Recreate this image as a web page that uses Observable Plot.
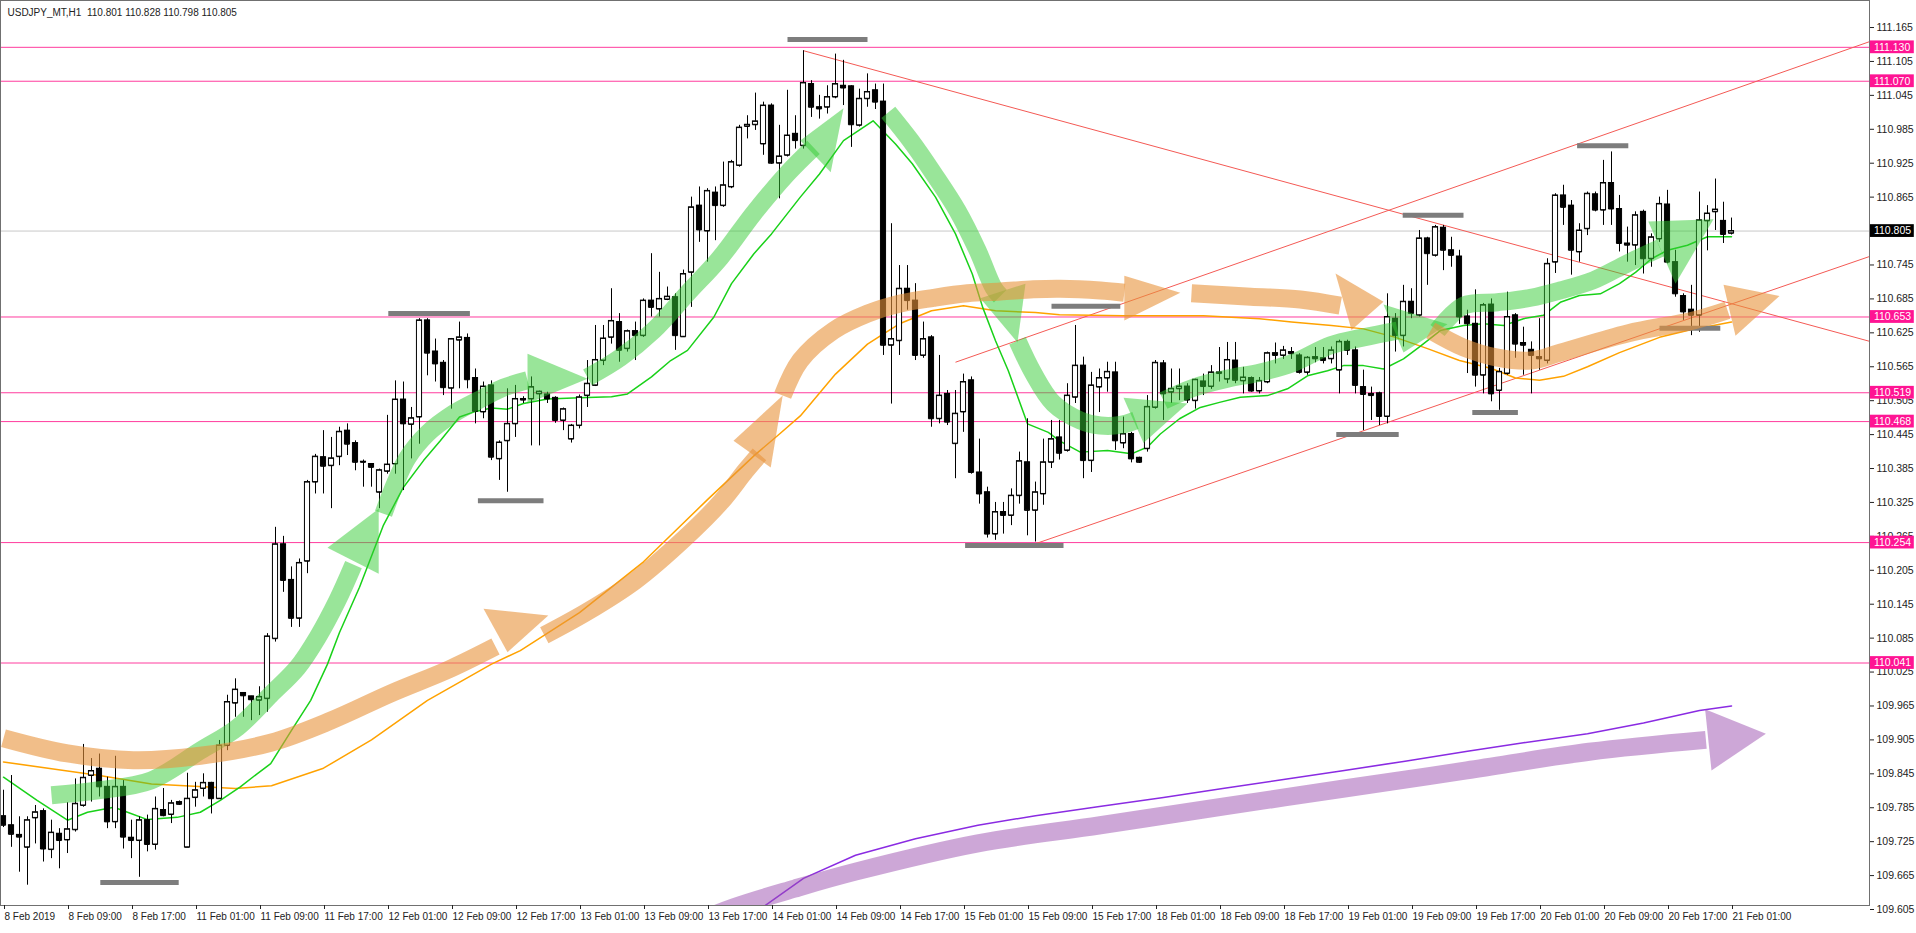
<!DOCTYPE html>
<html><head><meta charset="utf-8">
<script src="https://cdn.jsdelivr.net/npm/d3@7"></script>
<script src="https://cdn.jsdelivr.net/npm/@observablehq/plot@0.6"></script>
<style>html,body{margin:0;padding:0;background:#fff;overflow:hidden}svg{display:block}</style>
</head><body><div id="chart"></div>
<script>
const title = "USDJPY_MT,H1  110.801 110.828 110.798 110.805";
const xTickLabels = ["8 Feb 2019","8 Feb 09:00","8 Feb 17:00","11 Feb 01:00","11 Feb 09:00","11 Feb 17:00","12 Feb 01:00","12 Feb 09:00","12 Feb 17:00","13 Feb 01:00","13 Feb 09:00","13 Feb 17:00","14 Feb 01:00","14 Feb 09:00","14 Feb 17:00","15 Feb 01:00","15 Feb 09:00","15 Feb 17:00","18 Feb 01:00","18 Feb 09:00","18 Feb 17:00","19 Feb 01:00","19 Feb 09:00","19 Feb 17:00","20 Feb 01:00","20 Feb 09:00","20 Feb 17:00","21 Feb 01:00"];
const priceTicks = [111.165,111.105,111.045,110.985,110.925,110.865,110.805,110.745,110.685,110.625,110.565,110.505,110.445,110.385,110.325,110.265,110.205,110.145,110.085,110.025,109.965,109.905,109.845,109.785,109.725,109.665,109.605];
const levels = [111.130,111.070,110.653,110.519,110.468,110.254,110.041];
const lastPrice = 110.805;

const opens = [109.770,109.754,109.737,109.715,109.767,109.779,109.711,109.739,109.728,109.746,
109.789,109.842,109.854,109.822,109.760,109.822,109.732,109.727,109.763,109.720,
109.781,109.773,109.795,109.715,109.803,109.819,109.829,109.801,109.895,109.970,
109.988,109.982,109.975,109.978,110.084,110.251,110.188,110.120,110.221,110.361,
110.405,110.390,110.406,110.452,110.430,110.396,110.393,110.343,110.380,110.393,
110.507,110.463,110.476,110.647,110.592,110.572,110.527,110.612,110.616,110.545,
110.485,110.532,110.402,110.434,110.464,110.508,110.508,110.517,110.516,110.510,
110.470,110.437,110.461,110.514,110.532,110.576,110.617,110.644,110.597,110.628,
110.620,110.682,110.667,110.684,110.688,110.618,110.732,110.850,110.805,110.873,
110.850,110.883,110.921,110.990,110.993,110.959,111.027,110.925,110.939,110.977,
110.956,111.065,111.024,111.024,111.042,111.062,111.061,110.992,111.039,111.054,
111.034,110.603,110.611,110.703,110.682,110.585,110.617,110.473,110.517,110.429,
110.485,110.541,110.378,110.343,110.269,110.308,110.302,110.337,110.396,110.311,
110.340,110.396,110.440,110.417,110.511,110.567,110.399,110.529,110.545,110.555,
110.430,110.446,110.404,110.420,110.493,110.571,110.520,110.526,110.530,110.505,
110.539,110.530,110.553,110.543,110.576,110.540,110.545,110.522,110.538,110.589,
110.585,110.591,110.585,110.555,110.582,110.580,110.579,110.559,110.609,110.594,
110.529,110.517,110.518,110.477,110.650,110.620,110.680,110.656,110.792,110.762,
110.811,110.771,110.760,110.654,110.641,110.550,110.675,110.523,110.553,110.656,
110.607,110.595,110.582,110.576,110.750,110.868,110.850,110.768,110.809,110.870,
110.842,110.890,110.844,110.783,110.780,110.839,110.756,110.791,110.852,110.750,
110.690,110.666,110.656,110.823,110.839,110.823,110.801];
const highs = [109.816,109.842,109.769,109.769,109.789,109.783,109.763,109.748,109.794,109.836,
109.897,109.872,109.880,109.839,109.876,109.833,109.763,109.769,109.772,109.804,
109.819,109.798,109.797,109.846,109.830,109.845,109.830,109.904,109.984,110.013,
109.988,109.982,109.999,110.093,110.281,110.265,110.211,110.225,110.364,110.410,
110.452,110.440,110.458,110.464,110.434,110.400,110.393,110.384,110.479,110.540,
110.538,110.493,110.650,110.650,110.614,110.576,110.615,110.644,110.623,110.561,
110.538,110.540,110.434,110.526,110.532,110.512,110.547,110.522,110.520,110.512,
110.492,110.463,110.515,110.576,110.638,110.638,110.703,110.659,110.630,110.644,
110.685,110.765,110.732,110.706,110.694,110.736,110.865,110.883,110.880,110.883,
110.927,110.930,110.992,111.009,111.049,111.033,111.030,110.992,111.054,111.009,
111.124,111.071,111.045,111.062,111.118,111.107,111.062,111.056,111.083,111.065,
111.065,110.818,110.744,110.744,110.712,110.644,110.620,110.585,110.523,110.523,
110.552,110.547,110.437,110.352,110.325,110.325,110.349,110.414,110.473,110.361,
110.437,110.470,110.470,110.535,110.638,110.582,110.555,110.561,110.573,110.573,
110.476,110.449,110.405,110.514,110.576,110.576,110.561,110.561,110.535,110.543,
110.552,110.567,110.599,110.608,110.608,110.564,110.547,110.546,110.591,110.607,
110.601,110.599,110.588,110.583,110.599,110.599,110.600,110.612,110.612,110.600,
110.559,110.529,110.520,110.694,110.659,110.709,110.703,110.806,110.794,110.815,
110.815,110.794,110.771,110.665,110.701,110.677,110.685,110.562,110.697,110.659,
110.635,110.609,110.650,110.756,110.871,110.886,110.859,110.818,110.874,110.874,
110.930,110.945,110.868,110.812,110.839,110.842,110.800,110.865,110.877,110.771,
110.694,110.709,110.874,110.850,110.897,110.856,110.828];
const lows = [109.750,109.715,109.671,109.648,109.721,109.689,109.695,109.677,109.704,109.742,
109.786,109.795,109.804,109.748,109.748,109.712,109.695,109.662,109.707,109.710,
109.769,109.757,109.789,109.715,109.786,109.804,109.774,109.801,109.886,109.945,
109.945,109.939,109.948,109.954,110.078,110.166,110.104,110.104,110.199,110.340,
110.340,110.314,110.390,110.408,110.381,110.352,110.352,110.314,110.375,110.375,
110.346,110.402,110.428,110.549,110.538,110.514,110.490,110.526,110.526,110.464,
110.473,110.399,110.364,110.343,110.440,110.500,110.425,110.425,110.500,110.465,
110.452,110.430,110.455,110.493,110.530,110.567,110.605,110.573,110.591,110.576,
110.617,110.653,110.653,110.682,110.594,110.617,110.670,110.785,110.750,110.788,
110.847,110.880,110.918,110.968,110.983,110.939,110.923,110.862,110.936,110.950,
110.950,111.006,111.003,111.012,111.039,111.027,110.953,110.989,111.024,111.020,
110.585,110.499,110.585,110.665,110.576,110.580,110.458,110.464,110.461,110.367,
110.449,110.375,110.322,110.262,110.258,110.269,110.284,110.322,110.266,110.255,
110.320,110.385,110.400,110.414,110.500,110.367,110.378,110.484,110.520,110.417,
110.420,110.395,110.394,110.414,110.490,110.470,110.500,110.505,110.500,110.490,
110.514,110.525,110.538,110.535,110.535,110.517,110.520,110.517,110.535,110.570,
110.578,110.578,110.552,110.550,110.572,110.570,110.570,110.517,110.585,110.517,
110.452,110.470,110.461,110.464,110.591,110.600,110.650,110.653,110.709,110.759,
110.735,110.741,110.640,110.553,110.529,110.517,110.503,110.488,110.550,110.580,
110.550,110.517,110.559,110.570,110.730,110.815,110.727,110.750,110.797,110.839,
110.815,110.815,110.768,110.750,110.744,110.729,110.741,110.785,110.747,110.688,
110.647,110.620,110.626,110.770,110.806,110.783,110.798];
const closes = [109.754,109.738,109.733,109.763,109.777,109.712,109.741,109.727,109.747,109.792,
109.838,109.850,109.822,109.760,109.822,109.733,109.727,109.763,109.720,109.783,
109.771,109.793,109.791,109.801,109.816,109.829,109.801,109.895,109.972,109.994,
109.983,109.976,109.981,110.088,110.251,110.187,110.120,110.218,110.361,110.406,
110.389,110.403,110.450,110.428,110.396,110.397,110.387,110.382,110.392,110.507,
110.464,110.474,110.647,110.589,110.570,110.528,110.614,110.617,110.542,110.486,
110.530,110.405,110.431,110.464,110.508,110.506,110.529,110.521,110.508,110.470,
110.490,110.461,110.511,110.535,110.577,110.615,110.646,110.594,110.628,110.620,
110.682,110.670,110.685,110.689,110.620,110.729,110.847,110.807,110.876,110.850,
110.886,110.927,110.988,110.993,110.999,111.027,110.925,110.937,110.974,110.965,
111.067,111.024,111.021,111.042,111.065,111.058,110.993,111.039,111.051,111.033,
110.603,110.614,110.703,110.682,110.585,110.614,110.473,110.514,110.467,110.482,
110.538,110.378,110.340,110.269,110.308,110.302,110.337,110.398,110.311,110.343,
110.396,110.437,110.412,110.514,110.567,110.399,110.532,110.545,110.556,110.434,
110.446,110.402,110.396,110.494,110.572,110.517,110.526,110.530,110.506,110.542,
110.530,110.555,110.555,110.577,110.541,110.546,110.522,110.540,110.589,110.585,
110.594,110.588,110.555,110.581,110.579,110.576,110.594,110.609,110.594,110.532,
110.516,110.514,110.477,110.653,110.620,110.680,110.659,110.792,110.765,110.812,
110.771,110.762,110.653,110.641,110.550,110.674,110.517,110.556,110.653,110.605,
110.603,110.585,110.579,110.747,110.868,110.847,110.771,110.806,110.871,110.842,
110.890,110.844,110.783,110.780,110.833,110.756,110.794,110.853,110.750,110.694,
110.662,110.656,110.824,110.836,110.843,110.799,110.805];

// moving averages: [bar, price]
const maFast = [[0,109.839],[4.2,109.798],[8,109.763],[10.5,109.777],[13.8,109.786],[15.5,109.777],[18,109.764],[21.7,109.768],[24.6,109.777],[27.1,109.798],[29.6,109.822],[31.7,109.845],[33.4,109.863],[36,109.922],[38.4,109.975],[40.5,110.039],[42,110.095],[44.5,110.175],[47.5,110.285],[50,110.352],[52.5,110.399],[54.6,110.434],[57,110.476],[59,110.486],[61,110.492],[63,110.490],[65,110.500],[68,110.508],[72,110.510],[76,110.512],[78,110.517],[81,110.547],[83.4,110.576],[85.5,110.594],[88.8,110.653],[91,110.712],[93.8,110.765],[96,110.800],[99.6,110.865],[102,110.906],[105,110.965],[108.7,111.000],[111.5,110.959],[113.6,110.924],[116.5,110.865],[119,110.800],[121.1,110.729],[122.4,110.670],[124,110.611],[125.6,110.558],[128,110.464],[130.6,110.449],[132,110.434],[134.6,110.414],[138,110.417],[141,110.411],[143,110.423],[144.6,110.446],[147,110.473],[149.6,110.493],[152,110.502],[154.6,110.511],[158,110.514],[160.5,110.526],[163,110.549],[165.5,110.558],[167.5,110.567],[170,110.567],[172.5,110.561],[175,110.579],[177,110.600],[179.6,110.629],[182.5,110.638],[185,110.641],[187.5,110.638],[190,110.650],[192.5,110.656],[194.6,110.679],[197,110.691],[199.6,110.694],[202,110.712],[204,110.732],[206,110.756],[208,110.771],[210.5,110.780],[213,110.795],[216,110.795]];
const maSlow = [[0,109.866],[8,109.850],[12,109.842],[18.5,109.827],[25,109.822],[29,109.819],[33.5,109.824],[40,109.855],[46,109.905],[53,109.975],[61,110.039],[64.6,110.063],[72,110.13],[80,110.22],[88,110.33],[94,110.41],[97,110.446],[99.6,110.478],[104,110.552],[108,110.605],[110,110.623],[112,110.641],[116,110.664],[120,110.673],[124,110.664],[129,110.661],[132,110.657],[140,110.655],[150,110.655],[157,110.650],[161,110.644],[166,110.638],[170,110.632],[174,110.617],[178,110.597],[182,110.576],[186,110.562],[189,110.545],[192,110.541],[195,110.548],[198,110.565],[202,110.59],[207,110.617],[210.5,110.629],[216,110.644]];
const maLong = [[94,109.600],[100,109.660],[106.5,109.701],[114,109.730],[121.8,109.754],[129,109.771],[137,109.787],[145,109.803],[152.4,109.819],[160,109.835],[167.6,109.851],[175,109.867],[183,109.885],[190,109.900],[198,109.916],[205,109.935],[212,109.957],[216,109.965]];

// trend lines: [bar1, price1, bar2, price2]
const trendLines = [[100,111.124,233.25,110.61],[119,110.573,233.25,111.14],[129,110.252,233.25,110.76]];
// short grey swing markers: [barStart, barEnd, price]
const swingMarks = [[12.1,21.9,109.653],[48.1,58.3,110.659],[59.3,67.5,110.328],[98,108,111.144],[120.2,132.5,110.249],[131,139.6,110.672],[166.6,174.4,110.445],[174.9,182.5,110.833],[183.6,189.3,110.484],[196.7,203.1,110.956],[207,214.6,110.633]];

// hand-drawn arrows: bodies [bar, price] and heads (triangles)
const greenBands = [
 [[6,109.807],[12,109.816],[18.4,109.833],[24.6,109.886],[29.25,109.927],[33.4,109.985],[36.75,110.033],[39.25,110.086],[41.75,110.152],[43.75,110.215]],
 [[47.5,110.305],[49,110.36],[50.5,110.404],[53,110.447],[56.25,110.482],[59.25,110.505],[62.5,110.528],[65.5,110.541]],
 [[73,110.546],[77.1,110.581],[81.25,110.629],[85.5,110.695],[89.6,110.758],[93.75,110.836],[98,110.907],[101.25,110.953]],
 [[110.6,111.015],[113.4,110.965],[116.25,110.907],[119.25,110.841],[121.75,110.771],[123.75,110.705],[124.6,110.69]],
 [[126.75,110.611],[128.75,110.553],[131.25,110.500],[134.6,110.470],[137.1,110.461],[139.6,110.462],[141.5,110.470]],
 [[145,110.505],[148.75,110.528],[153,110.544],[157.1,110.555],[161.25,110.572],[165.9,110.603],[170,110.617],[174.25,110.629]],
 [[179.25,110.629],[182.5,110.673],[186.75,110.679],[190.9,110.687],[194.6,110.700],[198.75,110.718],[203,110.748],[207.1,110.775]]
];
const greenHeads = [
 [[40.5,110.245],[46.9,110.199],[46.9,110.314]],
 [[65.5,110.588],[65.5,110.500],[73,110.544]],
 [[99.6,110.965],[103.4,110.909],[105,111.022]],
 [[122.1,110.686],[127.75,110.712],[126.75,110.608]],
 [[140,110.51],[142.5,110.43],[148,110.50]],
 [[172.5,110.675],[175,110.59],[180.5,110.64]],
 [[205.6,110.822],[209,110.712],[213.75,110.826]]
];
const orangeBands = [
 [[0,109.908],[8,109.881],[16.25,109.869],[24.6,109.877],[33.4,109.900],[40.9,109.939],[48.4,109.987],[55.9,110.031],[61.5,110.07]],
 [[67.6,110.090],[73,110.132],[79,110.187],[85.1,110.261],[89.75,110.327],[92.75,110.381],[94.5,110.41]],
 [[97.4,110.514],[99.6,110.576],[103.75,110.629],[108,110.659],[112.1,110.677],[116.25,110.687],[120.5,110.695],[124.6,110.698],[128.75,110.702],[132.1,110.703],[137.1,110.700],[140.1,110.696]],
 [[148.5,110.695],[155.9,110.689],[162.1,110.684],[167.1,110.673]],
 [[178.4,110.629],[182.5,110.599],[186.75,110.581],[190.9,110.576],[194.6,110.590],[203,110.624],[211.25,110.647],[215.5,110.665]]
];
const orangeHeads = [
 [[60,110.137],[63,110.060],[68.1,110.125]],
 [[91.25,110.434],[95.9,110.387],[97.4,110.514]],
 [[140.1,110.726],[140.1,110.647],[147.1,110.696]],
 [[166.5,110.73],[168.5,110.63],[172.5,110.68]],
 [[215,110.71],[216.5,110.62],[222,110.69]]
];
const purpleBands = [
 [[84.4,109.570],[91.3,109.609],[98.9,109.642],[106.5,109.672],[121.8,109.722],[137.1,109.754],[152.4,109.787],[167.6,109.819],[182.9,109.851],[198.2,109.884],[212.8,109.905]]
];
const purpleHeads = [
 [[212.7,109.959],[213.5,109.851],[220.3,109.916]]
];

const xMin = -0.375, xMax = 233.25, yMin = 109.6121, yMax = 111.2128;
const bars = opens.map((o, i) => ({i, o, h: highs[i], l: lows[i], c: closes[i]}));
const half = 0.32;
const flat = groups => groups.flatMap((pts, k) => pts.map(([b, p]) => ({k, b, p})));
const font = "Liberation Sans, Arial, sans-serif";

const band = (groups, color, op) => Plot.line(flat(groups), {x: "b", y: "p", z: "k", stroke: color, strokeWidth: 18, strokeOpacity: op, curve: "catmull-rom", strokeLinecap: "butt", clip: true});
const heads = (groups, color, op) => Plot.line(flat(groups), {x: "b", y: "p", z: "k", fill: color, fillOpacity: op, stroke: "none", curve: "linear-closed", clip: true});
const maLine = (pts, color) => Plot.line(pts, {x: d => d[0], y: d => d[1], stroke: color, strokeWidth: 1.5, clip: true});

const chart = Plot.plot({
  width: 1916, height: 933,
  marginLeft: 0, marginRight: 47, marginTop: 0, marginBottom: 28,
  x: {domain: [xMin, xMax], axis: null},
  y: {domain: [yMin, yMax], axis: null},
  style: {fontFamily: font, background: "#fff", color: "#222"},
  marks: [
    Plot.ruleY(levels, {stroke: "#ff3c9e", strokeWidth: 1}),
    Plot.ruleY([lastPrice], {stroke: "#c8c8c8", strokeWidth: 1}),
    Plot.link(trendLines, {x1: d => d[0], y1: d => d[1], x2: d => d[2], y2: d => d[3], stroke: "#f45a55", strokeWidth: 1, clip: true}),
    maLine(maLong, "#8a2be2"),
    maLine(maSlow, "#ffa200"),
    maLine(maFast, "#19d119"),
    Plot.ruleX(bars, {x: "i", y1: "l", y2: "h", stroke: "#000", strokeWidth: 1}),
    Plot.rect(bars, {x1: d => d.i - half, x2: d => d.i + half, y1: d => Math.min(d.o, d.c), y2: d => Math.max(d.o, d.c), fill: d => d.c >= d.o ? "#fff" : "#000", stroke: "#000", strokeWidth: 1}),
    Plot.ruleY(bars, {y: "c", x1: d => d.i - half, x2: d => d.i + half, stroke: "#000", strokeWidth: 1}),
    Plot.ruleY(bars, {y: "o", x1: d => d.i - half, x2: d => d.i + half, stroke: "#000", strokeWidth: 1}),
    Plot.link(swingMarks, {x1: d => d[0], x2: d => d[1], y1: d => d[2], y2: d => d[2], stroke: "#7d7d7d", strokeWidth: 5}),
    band(greenBands, "#33cc33", 0.5),
    heads(greenHeads, "#33cc33", 0.5),
    band(orangeBands, "#e8923a", 0.6),
    heads(orangeHeads, "#e8923a", 0.6),
    band(purpleBands, "#9b4fb0", 0.5),
    heads(purpleHeads, "#9b4fb0", 0.5),
    Plot.frame({stroke: "#707070"}),
    Plot.axisY(priceTicks, {anchor: "right", tickSize: 4, tickPadding: 3, tickFormat: d => d.toFixed(3), fontSize: 10.5, fill: "#222"}),
    Plot.axisX(d3.range(0, 217, 8), {anchor: "bottom", tickSize: 4, tickPadding: 3, tickFormat: d => xTickLabels[d / 8], textAnchor: "start", dx: 1, fontSize: 10, fill: "#222"}),
    Plot.rect(levels, {x1: xMax + 0.12, x2: xMax + 5.6, y1: d => d - 0.0113, y2: d => d + 0.0113, fill: "#ff1493"}),
    Plot.text(levels, {x: xMax + 0.55, y: d => d, text: d => d.toFixed(3), fill: "#fff", textAnchor: "start", fontSize: 10.5}),
    Plot.rect([lastPrice], {x1: xMax + 0.12, x2: xMax + 5.6, y1: d => d - 0.0113, y2: d => d + 0.0113, fill: "#000"}),
    Plot.text([lastPrice], {x: xMax + 0.55, y: d => d, text: d => d.toFixed(3), fill: "#fff", textAnchor: "start", fontSize: 10.5}),
    Plot.text([title], {frameAnchor: "top-left", dx: 7, dy: 8, textAnchor: "start", fontSize: 10, fill: "#222"})
  ]
});
document.getElementById("chart").appendChild(chart);
</script>
</body></html>
